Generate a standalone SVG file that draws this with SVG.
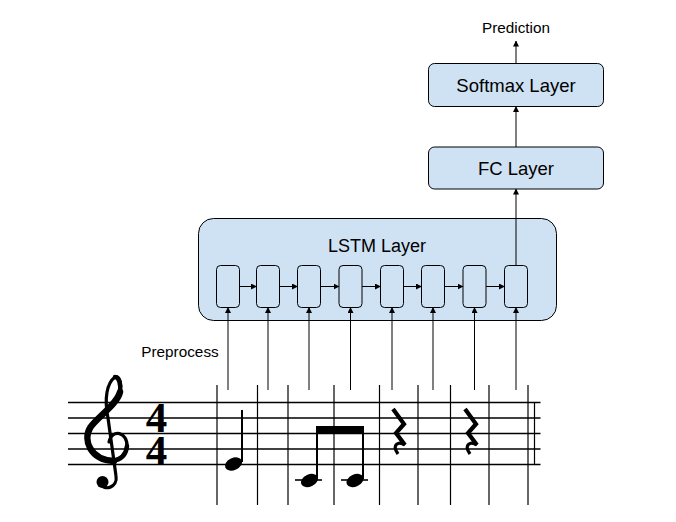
<svg xmlns="http://www.w3.org/2000/svg" width="676" height="522" viewBox="0 0 676 522">
<defs>
<marker id="ah" markerWidth="6" markerHeight="6" refX="5.5" refY="3" orient="auto" markerUnits="userSpaceOnUse">
<path d="M0,0 L6,3 L0,6 Z" fill="#000"/>
</marker>
<style>
.box{fill:#cfe2f3;stroke:#000;stroke-width:1}
.cell{fill:#cfe2f3;stroke:#000;stroke-width:1}
.lbl{font-family:"Liberation Sans",Arial,sans-serif;fill:#000;text-anchor:middle}
.con{stroke:#000;stroke-width:1;fill:none;marker-end:url(#ah)}
.staff{stroke:#000;stroke-width:1.3}
.bar{stroke:#000;stroke-width:1.2}
.ink{fill:#000}
.ts{font-family:"Liberation Serif","Times New Roman",serif;font-weight:bold;font-size:43px;fill:#000;text-anchor:middle}
</style>
</defs>
<rect width="676" height="522" fill="#fff"/>

<g id="lstm">
<rect class="box" x="198.5" y="218.5" width="358" height="102" rx="15"/>
<text class="lbl" x="377" y="252" font-size="18">LSTM Layer</text>
<rect class="cell" x="216.5" y="265.5" width="23" height="42" rx="4"/>
<rect class="cell" x="256.5" y="265.5" width="23" height="42" rx="4"/>
<rect class="cell" x="297.5" y="265.5" width="23" height="42" rx="4"/>
<rect class="cell" x="339" y="265.5" width="23" height="42" rx="4"/>
<rect class="cell" x="380.5" y="265.5" width="23" height="42" rx="4"/>
<rect class="cell" x="421.5" y="265.5" width="23" height="42" rx="4"/>
<rect class="cell" x="463" y="265.5" width="23" height="42" rx="4"/>
<rect class="cell" x="504.5" y="265.5" width="23" height="42" rx="4"/>
</g>

<g id="fc">
<rect class="box" x="428.5" y="147" width="175" height="42" rx="6"/>
<text class="lbl" x="516" y="175" font-size="18.5">FC Layer</text>
</g>

<g id="softmax">
<rect class="box" x="428.5" y="63.5" width="175" height="43" rx="6"/>
<text class="lbl" x="516" y="91.5" font-size="18.5">Softmax Layer</text>
</g>

<g id="prediction">
<text class="lbl" x="516" y="32.5" font-size="15.3">Prediction</text>
</g>

<g id="preprocess">
<text class="lbl" x="180" y="357" font-size="15.3">Preprocess</text>
</g>

<g id="connectors">
<line class="con" x1="239.5" y1="286.5" x2="256.5" y2="286.5"/>
<line class="con" x1="279.5" y1="286.5" x2="297.5" y2="286.5"/>
<line class="con" x1="320.5" y1="286.5" x2="339" y2="286.5"/>
<line class="con" x1="362" y1="286.5" x2="380.5" y2="286.5"/>
<line class="con" x1="403.5" y1="286.5" x2="421.5" y2="286.5"/>
<line class="con" x1="444.5" y1="286.5" x2="463" y2="286.5"/>
<line class="con" x1="486" y1="286.5" x2="504.5" y2="286.5"/>

<line class="con" x1="228" y1="390" x2="228" y2="307.5"/>
<line class="con" x1="268" y1="390" x2="268" y2="307.5"/>
<line class="con" x1="309" y1="390" x2="309" y2="307.5"/>
<line class="con" x1="350.5" y1="390" x2="350.5" y2="307.5"/>
<line class="con" x1="392" y1="390" x2="392" y2="307.5"/>
<line class="con" x1="433" y1="390" x2="433" y2="307.5"/>
<line class="con" x1="474.5" y1="390" x2="474.5" y2="307.5"/>
<line class="con" x1="516" y1="390" x2="516" y2="307.5"/>

<line class="con" x1="516" y1="265.5" x2="516" y2="189"/>
<line class="con" x1="516" y1="147" x2="516" y2="106.5"/>
<line class="con" x1="516" y1="63.5" x2="516" y2="41"/>
</g>

<g id="score">
<line class="staff" x1="68" y1="402.5" x2="540.5" y2="402.5"/>
<line class="staff" x1="68" y1="418" x2="540.5" y2="418"/>
<line class="staff" x1="68" y1="433.5" x2="540.5" y2="433.5"/>
<line class="staff" x1="68" y1="449" x2="540.5" y2="449"/>
<line class="staff" x1="68" y1="464.5" x2="540.5" y2="464.5"/>

<line class="bar" x1="217" y1="385" x2="217" y2="505"/>
<line class="bar" x1="257.5" y1="385" x2="257.5" y2="505"/>
<line class="bar" x1="288" y1="385" x2="288" y2="505"/>
<line class="bar" x1="334" y1="385" x2="334" y2="505"/>
<line class="bar" x1="379.5" y1="385" x2="379.5" y2="505"/>
<line class="bar" x1="418" y1="385" x2="418" y2="505"/>
<line class="bar" x1="450.5" y1="385" x2="450.5" y2="505"/>
<line class="bar" x1="489" y1="385" x2="489" y2="505"/>
<line class="bar" x1="528" y1="385" x2="528" y2="505"/>
<line class="bar" x1="534.5" y1="402.5" x2="534.5" y2="464.5"/>

<!-- treble clef -->
<g id="clef">
<path d="M109 442 C112 428 128 432 127 447 C126 458 114 463 104 460 C90 455 83 440 90 428 C96 418 117 405 120 392 C122 383 119 375 115 377 C107 383 104 398 108 418 L116 476 C118 488 104 491 100 484" fill="none" stroke="#000" stroke-width="3.2" stroke-linecap="round"/>
<path d="M114 461 C90 460 83 440 90 428 C96 418 117 405 120 392" fill="none" stroke="#000" stroke-width="6.5" stroke-linecap="round"/>
<path d="M127 446 C126 456 120 460 112 461" fill="none" stroke="#000" stroke-width="4.5" stroke-linecap="round"/>
<path d="M120 392 C121 384 119 377 115 377" fill="none" stroke="#000" stroke-width="4.5" stroke-linecap="round"/>
<circle cx="102.5" cy="482" r="6" class="ink"/>
</g>

<!-- time signature -->
<text class="ts"><tspan x="156.5" y="432">4</tspan><tspan x="156.5" y="465">4</tspan></text>

<!-- quarter note E -->
<ellipse cx="233.5" cy="464" rx="9" ry="6" transform="rotate(-25 233.5 464)" class="ink"/>
<line x1="242" y1="410" x2="242" y2="462" stroke="#000" stroke-width="2"/>

<!-- beamed eighths C -->
<line x1="295" y1="480" x2="322" y2="480" stroke="#000" stroke-width="1.6"/>
<line x1="341" y1="480" x2="368" y2="480" stroke="#000" stroke-width="1.6"/>
<ellipse cx="309.5" cy="480.5" rx="9" ry="6" transform="rotate(-25 309.5 480.5)" class="ink"/>
<ellipse cx="355" cy="480.5" rx="9" ry="6" transform="rotate(-25 355 480.5)" class="ink"/>
<line x1="317" y1="426" x2="317" y2="479" stroke="#000" stroke-width="2"/>
<line x1="363" y1="426" x2="363" y2="479" stroke="#000" stroke-width="2"/>
<rect x="316" y="426" width="48" height="7.2" class="ink"/>

<!-- quarter rests -->
<g id="rest1">
<path d="M393 409 L404 424 L396 433 L405 445" fill="none" stroke="#000" stroke-width="4.2" stroke-linejoin="miter"/>
<path d="M405 445 C399 441 391 444 398 454" fill="none" stroke="#000" stroke-width="3.2"/>
</g>
<g id="rest2" transform="translate(72 0)">
<path d="M393 409 L404 424 L396 433 L405 445" fill="none" stroke="#000" stroke-width="4.2" stroke-linejoin="miter"/>
<path d="M405 445 C399 441 391 444 398 454" fill="none" stroke="#000" stroke-width="3.2"/>
</g>
</g>
</svg>
